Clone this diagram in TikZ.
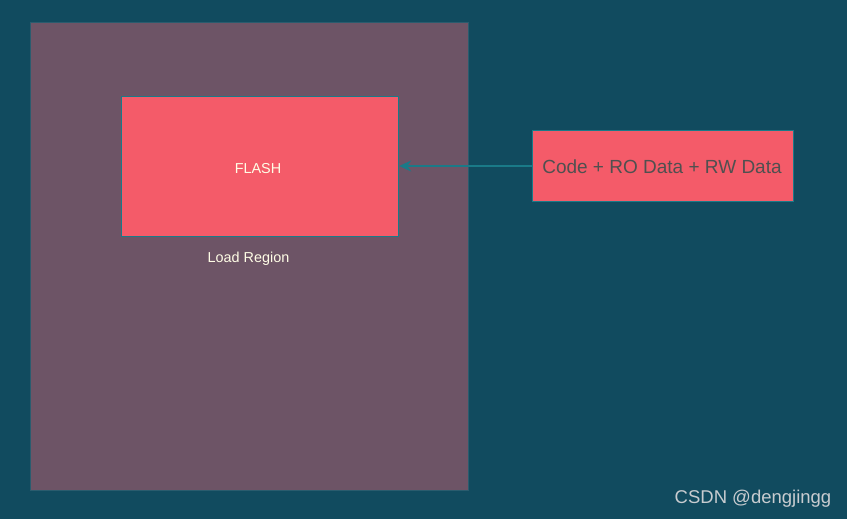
\documentclass[tikz,border=0pt]{standalone}
\usepackage{fontspec}
\setmainfont{Liberation Sans}
\usetikzlibrary{arrows.meta}
\definecolor{bgc}{HTML}{114B5F}
\definecolor{regc}{HTML}{6D5466}
\definecolor{regb}{HTML}{2A5C6E}
\definecolor{boxc}{HTML}{F45B69}
\definecolor{edgec}{HTML}{1A7A88}
\definecolor{txtw}{HTML}{FFFDE6}
\definecolor{txtg}{HTML}{505050}
\definecolor{wmc}{HTML}{C8CCD0}
\tikzset{
  pinkbox/.style={draw=edgec, line width=1.2pt, fill=boxc, inner sep=0pt},
  lbl/.style={text=txtw, font=\fontsize{14.4}{17}\selectfont},
  link/.style={draw=edgec, line width=1.2pt, -{Stealth[length=12pt,width=11pt]}}
}
\begin{document}
\begin{tikzpicture}[x=1pt,y=-1pt]
\path[fill=bgc] (0,0) rectangle (847,519);
\useasboundingbox (0,0) rectangle (847,519);
\node[draw=regb, line width=1pt, fill=regc, minimum width=438pt, minimum height=468pt, anchor=north west, inner sep=0pt] (region) at (30,22) {};
\node[pinkbox, minimum width=277pt, minimum height=140pt, anchor=north west] (flash) at (121,96) {};
\node[lbl] (flashlbl) at (258,168.5) {FLASH};
\node[lbl] (loadlbl) at (248.5,258.5) {Load Region};
\node[pinkbox, minimum width=261pt, minimum height=71pt, anchor=north west] (code) at (532,130) {};
\node[text=txtg, font=\fontsize{19}{22}\selectfont] (codelbl) at (662,167) {Code + RO Data + RW Data};
\draw[link] (code.west |- 0,166) -- (flash.east |- 0,166);
\node[text=wmc, font=\fontsize{18.5}{22}\selectfont] (wm) at (753,499) {CSDN @dengjingg};
\end{tikzpicture}
\end{document}
